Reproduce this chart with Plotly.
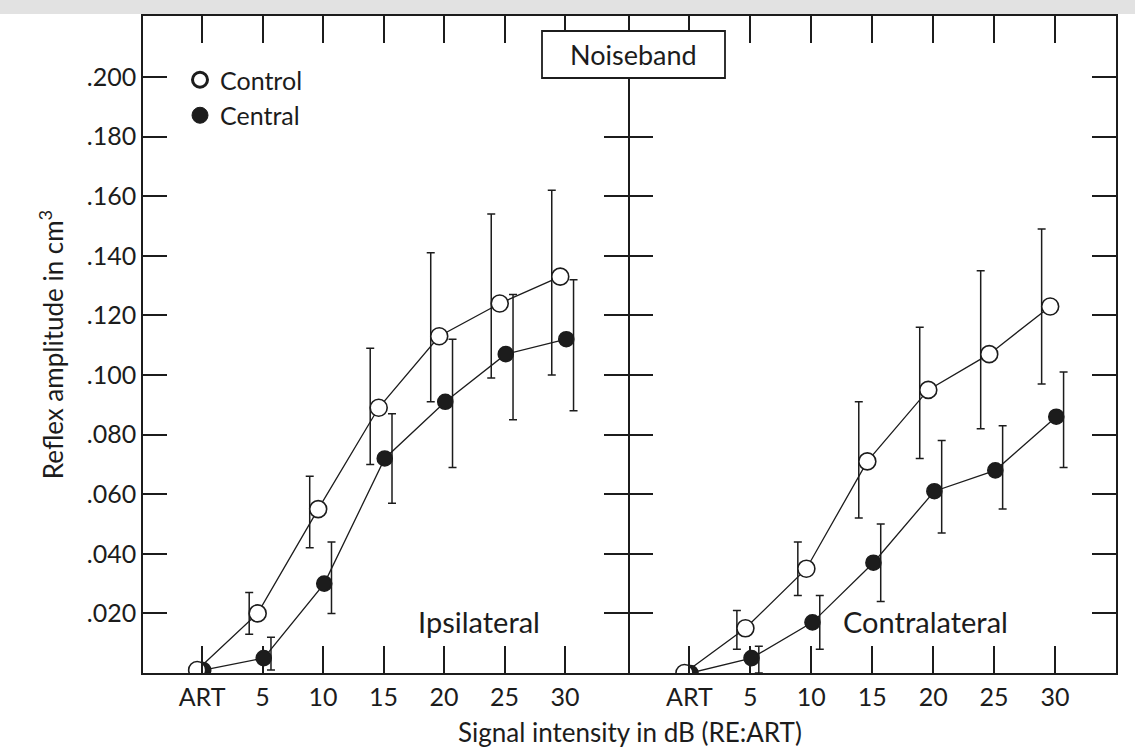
import plotly.graph_objects as go

# ---------------- data ----------------
levels = ["ART", "5", "10", "15", "20", "25", "30"]

ipsi_control = [0.001, 0.020, 0.055, 0.089, 0.113, 0.124, 0.133]
ipsi_control_hi = [None, 0.027, 0.066, 0.109, 0.141, 0.154, 0.162]
ipsi_control_lo = [None, 0.013, 0.042, 0.070, 0.091, 0.099, 0.100]

ipsi_central = [0.001, 0.005, 0.030, 0.072, 0.091, 0.107, 0.112]
ipsi_central_hi = [None, 0.012, 0.044, 0.087, 0.112, 0.127, 0.132]
ipsi_central_lo = [None, 0.001, 0.020, 0.057, 0.069, 0.085, 0.088]

contra_control = [0.000, 0.015, 0.035, 0.071, 0.095, 0.107, 0.123]
contra_control_hi = [None, 0.021, 0.044, 0.091, 0.116, 0.135, 0.149]
contra_control_lo = [None, 0.008, 0.026, 0.052, 0.072, 0.082, 0.097]

contra_central = [0.000, 0.005, 0.017, 0.037, 0.061, 0.068, 0.086]
contra_central_hi = [None, 0.009, 0.026, 0.050, 0.078, 0.083, 0.101]
contra_central_lo = [None, 0.000, 0.008, 0.024, 0.047, 0.055, 0.069]

ytick_vals = [0.020, 0.040, 0.060, 0.080, 0.100, 0.120, 0.140, 0.160, 0.180, 0.200]
ytick_text = [".020", ".040", ".060", ".080", ".100", ".120", ".140", ".160", ".180", ".200"]

series_names = ["Control", "Central"]
panel_titles = ["Ipsilateral", "Contralateral"]
box_title = "Noiseband"
x_title = "Signal intensity in dB (RE:ART)"
y_title = "Reflex amplitude in cm<sup>3</sup>"

# ---------------- styling / layout ----------------
W, H = 1135, 748
ML, MR, MT, MB = 143, 19, 16, 75
PW, PH = W - ML - MR, H - MT - MB
INK = "#1c1c1c"
FONT = "Lato"
LW = 1.6


def px_x(p):
    return (p - ML) / PW


def px_y(p):
    return (H - MB - p) / PH


split = px_x(628)
pos = list(range(len(levels)))
OFF_CTRL, OFF_CTRL_BAR = -0.08, -0.22
OFF_CENT, OFF_CENT_BAR = 0.02, 0.14

fig = go.Figure()


def add_series(vals, hi, lo, off, off_bar, filled, xa, ya):
    idx = [i for i in range(len(vals)) if hi[i] is not None]
    fig.add_trace(go.Scatter(
        x=[pos[i] + off_bar for i in idx], y=[vals[i] for i in idx],
        mode="markers", marker=dict(size=1, color="rgba(0,0,0,0)"),
        error_y=dict(type="data", symmetric=False,
                     array=[hi[i] - vals[i] for i in idx],
                     arrayminus=[vals[i] - lo[i] for i in idx],
                     thickness=1.5, width=4, color=INK),
        xaxis=xa, yaxis=ya, showlegend=False, hoverinfo="skip"))
    fig.add_trace(go.Scatter(
        x=[p + off for p in pos], y=vals, mode="lines+markers",
        line=dict(color=INK, width=1.3),
        marker=dict(symbol="circle", size=15 if filled else 17,
                    color=INK if filled else "white",
                    line=dict(color=INK, width=1.6)),
        xaxis=xa, yaxis=ya, showlegend=False))


add_series(ipsi_central, ipsi_central_hi, ipsi_central_lo, OFF_CENT, OFF_CENT_BAR, True, "x", "y")
add_series(ipsi_control, ipsi_control_hi, ipsi_control_lo, OFF_CTRL, OFF_CTRL_BAR, False, "x", "y")
add_series(contra_central, contra_central_hi, contra_central_lo, OFF_CENT, OFF_CENT_BAR, True, "x2", "y2")
add_series(contra_control, contra_control_hi, contra_control_lo, OFF_CTRL, OFF_CTRL_BAR, False, "x2", "y2")

# legend-only entries
fig.add_trace(go.Scatter(x=[None], y=[None], mode="markers", name=series_names[0],
                         marker=dict(symbol="circle", size=15, color="white",
                                     line=dict(color=INK, width=3))))
fig.add_trace(go.Scatter(x=[None], y=[None], mode="markers", name=series_names[1],
                         marker=dict(symbol="circle", size=16, color=INK,
                                     line=dict(color=INK, width=1))))

xcommon = dict(tickvals=pos, ticktext=levels, ticks="inside", ticklen=27,
               tickwidth=LW, tickcolor=INK, showline=True, linecolor=INK,
               linewidth=LW, mirror="ticks", showgrid=False, zeroline=False,
               tickfont=dict(size=25, color=INK, family=FONT),
               ticklabelstandoff=1)
ycommon = dict(range=[0, (H - MB - MT) / 2980.0], ticks="inside",
               ticklen=24, tickwidth=LW, tickcolor=INK, showline=True,
               linecolor=INK, linewidth=LW, mirror="ticks", showgrid=False,
               zeroline=False, tickvals=ytick_vals, ticktext=ytick_text,
               tickfont=dict(size=25, color=INK, family=FONT))

fig.update_layout(
    width=W, height=H,
    margin=dict(l=ML, r=MR, t=MT, b=MB, pad=0),
    paper_bgcolor="white", plot_bgcolor="white",
    font=dict(family=FONT, color=INK, size=25),
    xaxis=dict(domain=[0, split], range=[-0.975, 7.04], anchor="y", **xcommon),
    xaxis2=dict(domain=[split + LW / PW, 1], range=[-0.98, 7.0], anchor="y2", **xcommon),
    yaxis=dict(anchor="x", showticklabels=True,
               title=dict(text=y_title, font=dict(size=26, family=FONT, color=INK), standoff=16),
               **ycommon),
    yaxis2=dict(anchor="x2", showticklabels=False, **ycommon),
    legend=dict(x=px_x(180), y=px_y(57), xanchor="left", yanchor="top",
                bgcolor="rgba(0,0,0,0)", font=dict(size=25, family=FONT, color=INK),
                tracegroupgap=0, itemwidth=30),
    showlegend=True,
)

# scanned-page grey band at the very top
fig.add_shape(type="rect", xref="paper", yref="paper", x0=px_x(0), x1=px_x(W),
              y0=px_y(14), y1=px_y(0), fillcolor="#e2e2e2", line=dict(width=0),
              layer="below")

# Noiseband box
fig.add_shape(type="rect", xref="paper", yref="paper", x0=px_x(542), x1=px_x(725),
              y0=px_y(78), y1=px_y(31), fillcolor="white",
              line=dict(color=INK, width=1.8), layer="above")
fig.add_annotation(xref="paper", yref="paper", x=px_x(633), y=px_y(54), text=box_title,
                   showarrow=False, font=dict(size=27, family=FONT, color=INK),
                   xanchor="center", yanchor="middle")

# panel labels
fig.add_annotation(xref="paper", yref="paper", x=px_x(479), y=px_y(621), text=panel_titles[0],
                   showarrow=False, font=dict(size=29, family=FONT, color=INK),
                   xanchor="center", yanchor="middle")
fig.add_annotation(xref="paper", yref="paper", x=px_x(925), y=px_y(621), text=panel_titles[1],
                   showarrow=False, font=dict(size=29, family=FONT, color=INK),
                   xanchor="center", yanchor="middle")

# shared x title, centred on the divider
fig.add_annotation(xref="paper", yref="paper", x=px_x(630), y=px_y(732), text=x_title,
                   showarrow=False, font=dict(size=26, family=FONT, color=INK),
                   xanchor="center", yanchor="middle")

fig.write_html("out.html")
